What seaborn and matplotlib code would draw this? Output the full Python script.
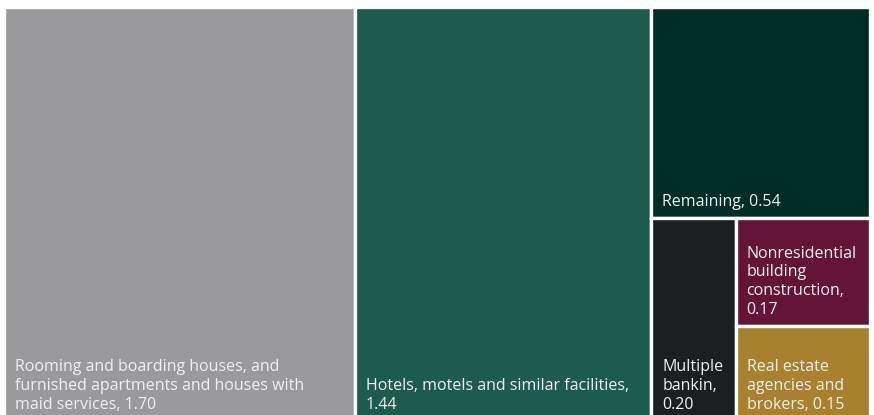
import matplotlib.pyplot as plt
import matplotlib.patches as mpatches
import seaborn as sns

# Treemap data
names = ["Rooming and boarding houses, and\nfurnished apartments and houses with\nmaid services",
         "Hotels, motels and similar facilities",
         "Remaining",
         "Multiple\nbankin",
         "Nonresidential\nbuilding\nconstruction",
         "Real estate\nagencies and\nbrokers"]
values = [1.70, 1.44, 0.54, 0.20, 0.17, 0.15]
valueSep = [" ", "\n", " ", "\n", "\n", " "]
colors = ["#9a9a9c", "#1e5b4f", "#002e27", "#1c1f22", "#641537", "#a8812f"]

sns.set_theme(style="white")
plt.rcParams['font.family'] = ['Open Sans', 'DejaVu Sans']

def split(rect, vals, horizontal):
    # slice a rect (x, y, w, h) into parts proportional to vals
    x, y, w, h = rect
    tot = sum(vals)
    out = []
    for v in vals:
        if horizontal:
            ww = w * v / tot
            out.append((x, y, ww, h))
            x += ww
        else:
            hh = h * v / tot
            out.append((x, y, w, hh))
            y += hh
    return out

# nested slice layout (y measured from the top)
full = (0, 0, 1, 1)
level1 = split(full, [values[0], values[1], sum(values[2:])], True)
level2 = split(level1[2], [values[2], sum(values[3:])], False)
level3 = split(level2[1], [values[3], sum(values[4:])], True)
level4 = split(level3[1], [values[4], values[5]], False)
rects = [level1[0], level1[1], level2[0], level3[0], level4[0], level4[1]]

fig = plt.figure(figsize=(8.74, 4.15), dpi=100)
ax = fig.add_axes([4/874, -6/415, 866/874, 414/415])
ax.set_xlim(0, 1)
ax.set_ylim(1, 0)
ax.axis("off")

W, H = 866, 414
for (x, y, w, h), name, val, sep, col in zip(rects, names, values, valueSep, colors):
    ax.add_patch(mpatches.Rectangle((x, y), w, h, facecolor=col, edgecolor="white", linewidth=2.4))
    ax.text(x + 11/W, y + h - 8/H, f"{name},{sep}{val:.2f}", color="#f0f0f0", fontsize=11.5,
            ha="left", va="bottom", linespacing=1.23)

plt.savefig("out.png", dpi=100)
